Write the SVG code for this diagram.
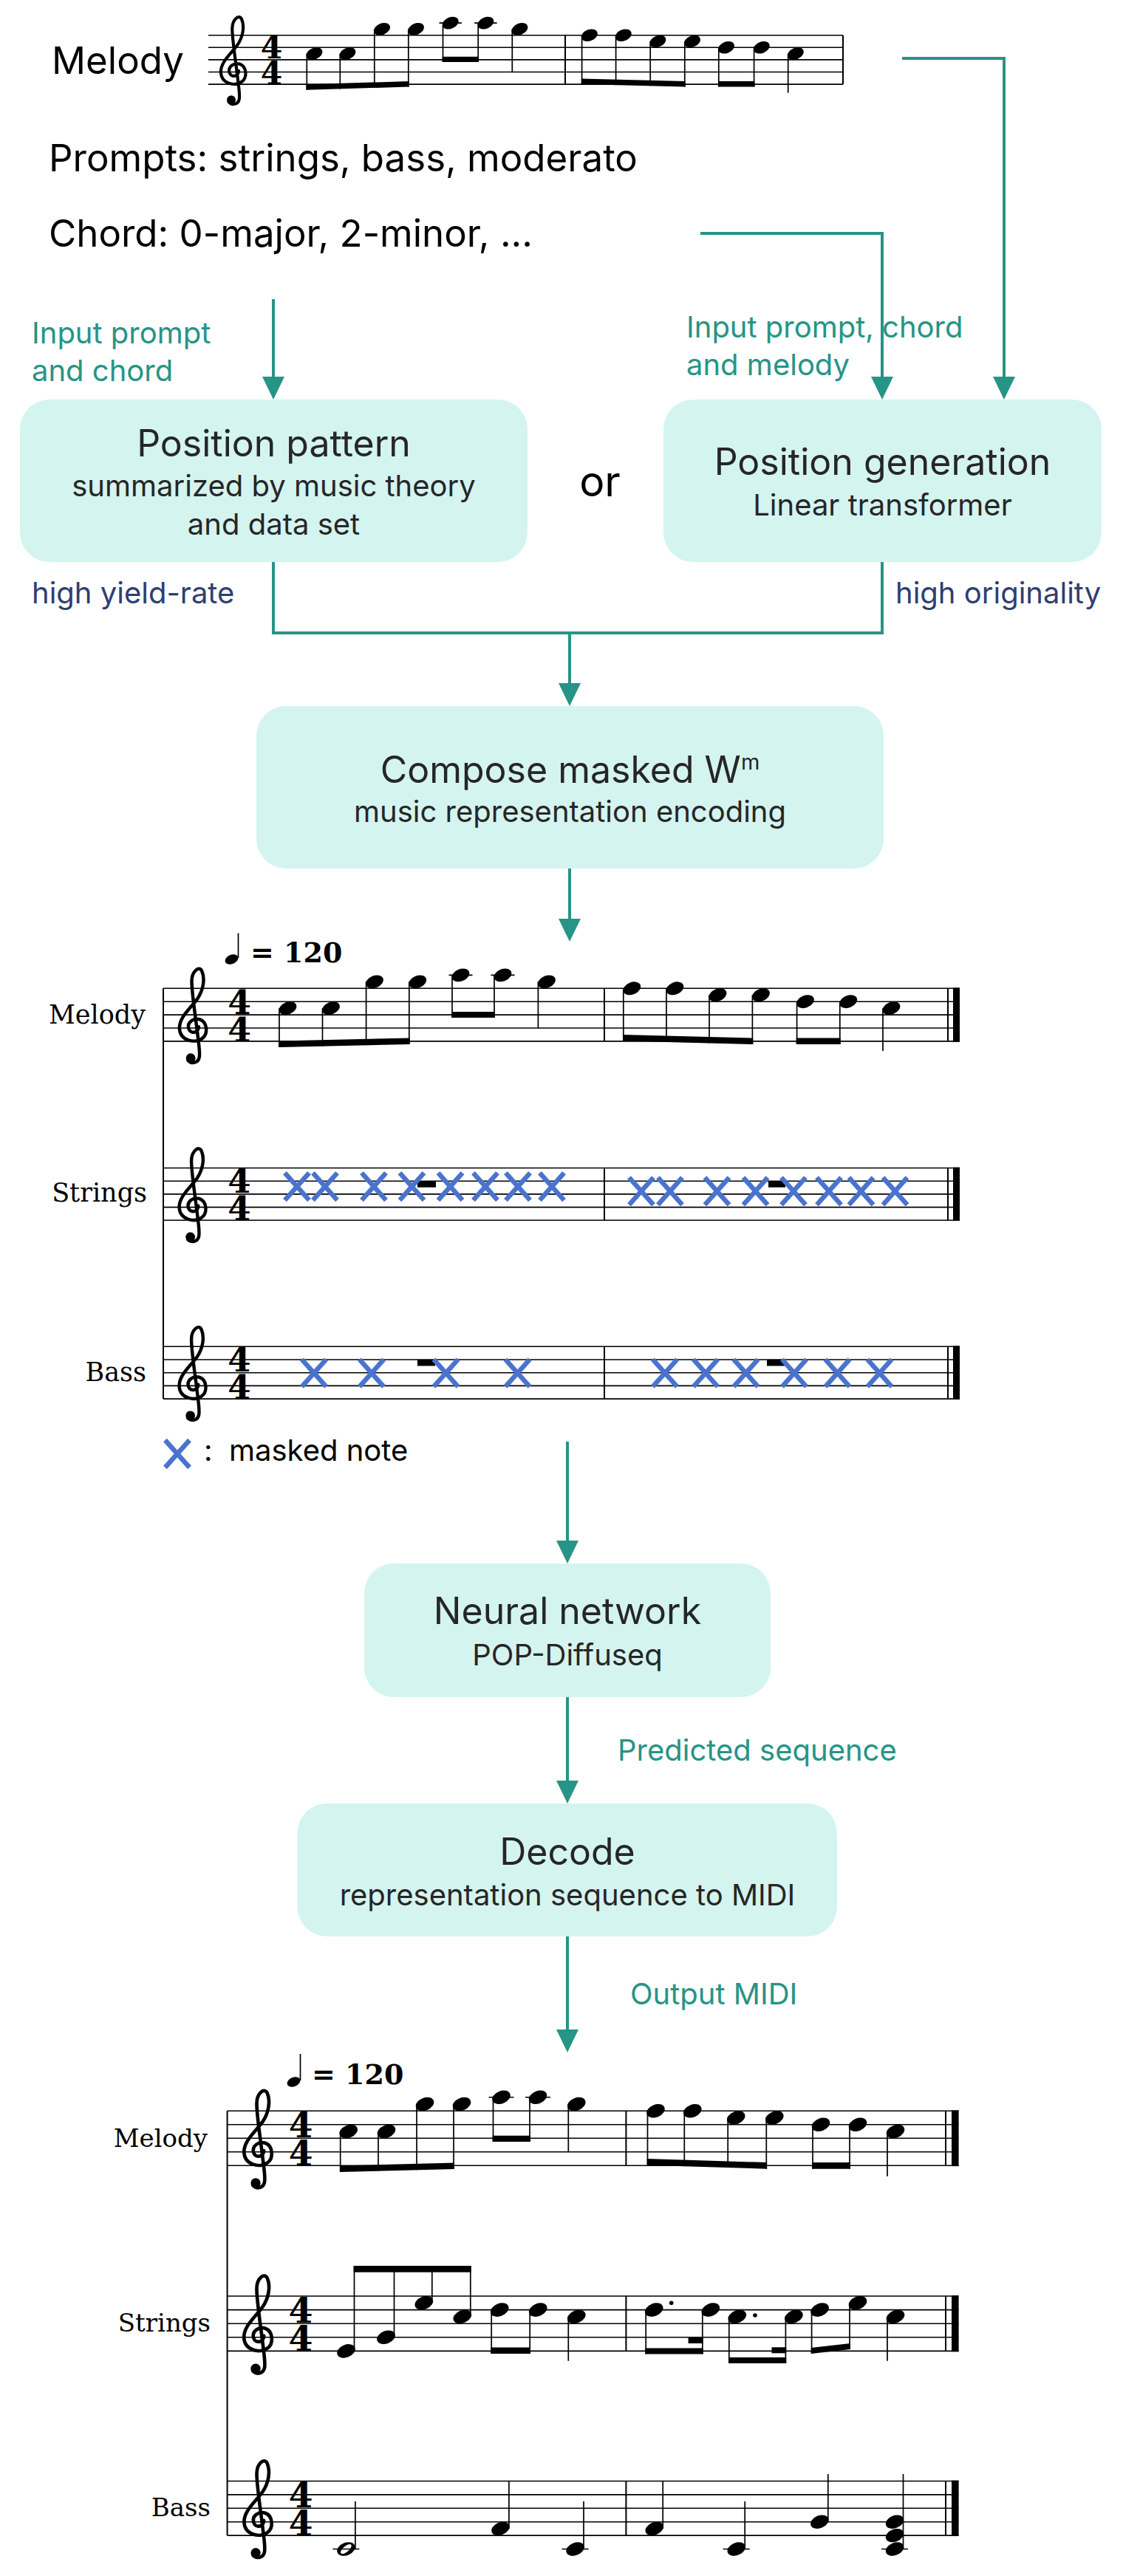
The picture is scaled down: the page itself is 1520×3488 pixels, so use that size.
<svg xmlns="http://www.w3.org/2000/svg" width="1520" height="3488" viewBox="0 0 1520 3488">
<defs>
<style>
.sans{font-family:Inter,"Liberation Sans",Arial,sans-serif}
.big{font-size:51px;fill:#000}
.nt{font-size:50px;fill:#262626;text-anchor:middle}
.ns{font-size:40px;fill:#262626}
.lbl{font-size:40px;fill:#269486}
.navy{font-size:40px;fill:#2E3E72}
.inst{font-family:"DejaVu Serif",serif;fill:#000;text-anchor:end}
.tsig{font-family:"DejaVu Serif",serif;font-weight:bold;text-anchor:middle;fill:#000}
.tempo{font-family:"DejaVu Serif",serif;font-weight:bold;font-size:38px;fill:#000}
.node{fill:#D4F4F0}
.conn{fill:none;stroke:#269486;stroke-width:4}
.st{stroke:#000;stroke-width:1.6;fill:none}
.stem{stroke:#000;stroke-width:1.7;fill:none}
.bar{stroke:#000;stroke-width:2;fill:none}
.x{stroke:#4A73CE;stroke-width:6.5;fill:none}
</style>
<marker id="ah" markerUnits="userSpaceOnUse" markerWidth="31" markerHeight="30" viewBox="0 0 31 30" refX="21" refY="15" orient="auto">
<path d="M0,0 L31,15 L0,30 z" fill="#269486"/>
</marker>
<g id="clef">
<path d="M0.3,-0.1 C0.32,0.35 -0.3,0.5 -0.45,0.05 C-0.6,-0.45 -0.05,-0.8 0.4,-0.65 C0.95,-0.45 1.05,0.45 0.55,0.8 C0,1.2 -1.1,0.95 -1.15,0.05 C-1.2,-0.8 -0.3,-1.5 0.2,-2.2 C0.65,-2.85 0.8,-3.7 0.55,-4.3 C0.35,-4.75 -0.2,-4.3 -0.22,-3.6 C-0.25,-2.9 0,-1.3 0.2,0.3 C0.3,1.2 0.42,1.8 0.35,2.2 C0.28,2.65 -0.25,2.75 -0.5,2.45" fill="none" stroke="#000" stroke-width="0.25" stroke-linecap="round"/>
<circle cx="-0.3" cy="2.28" r="0.36" fill="#000"/>
</g>
<ellipse id="hd" rx="0.69" ry="0.46" transform="rotate(-22)" fill="#000"/>
<path id="xm" d="M-16.5,-18.5 L16.5,18.5 M16.5,-18.5 L-16.5,18.5"/>
</defs>
<rect width="1520" height="3488" fill="#fff"/>

<!-- top inputs -->
<g id="melody-input">
<text class="sans big" x="70" y="100">Melody</text>
<path class="st" d="M282,47.7H1141 M282,64.3H1141 M282,80.9H1141 M282,97.5H1141 M282,114.1H1141"/>
<path class="bar" d="M765,47.7V114.1 M1141,47.7V114.1"/>
<use href="#clef" transform="translate(318,97.5) scale(16.6)"/>
<text class="tsig" font-size="42.5"><tspan x="367.5" y="79.4">4</tspan><tspan x="367.5" y="114.1">4</tspan></text>
<path class="st" d="M594.5,31.1H624.9 M642.2,31.1H672.6"/>
<use href="#hd" transform="translate(425.5,72.6) scale(16.6)"/>
<use href="#hd" transform="translate(470.5,72.6) scale(16.6)"/>
<use href="#hd" transform="translate(517,39.4) scale(16.6)"/>
<use href="#hd" transform="translate(563,39.4) scale(16.6)"/>
<use href="#hd" transform="translate(609.7,31.1) scale(16.6)"/>
<use href="#hd" transform="translate(657.4,31.1) scale(16.6)"/>
<use href="#hd" transform="translate(703.5,39.4) scale(16.6)"/>
<use href="#hd" transform="translate(797.8,47.7) scale(16.6)"/>
<use href="#hd" transform="translate(843.8,47.7) scale(16.6)"/>
<use href="#hd" transform="translate(890.4,56) scale(16.6)"/>
<use href="#hd" transform="translate(937,56) scale(16.6)"/>
<use href="#hd" transform="translate(983,64.3) scale(16.6)"/>
<use href="#hd" transform="translate(1030.8,64.3) scale(16.6)"/>
<use href="#hd" transform="translate(1076.9,72.6) scale(16.6)"/>
<path class="stem" d="M415.3,72.6V121.8 M460.3,72.6V120.4 M506.8,39.4V118.9 M552.8,39.4V117.5 M599.5,31.1V84 M647.2,31.1V84 M693.3,39.4V97.5 M787.6,47.7V114 M833.6,47.7V115.2 M880.2,56V116.3 M926.8,56V117.5 M972.8,64.3V117.5 M1020.6,64.3V117.5 M1066.7,72.6V125.7"/>
<polygon points="414.5,114.3 553.6,110 553.6,117.5 414.5,121.8"/>
<polygon points="598.7,76.7 648,76.7 648,84 598.7,84"/>
<polygon points="786.8,106.5 927.6,110 927.6,117.5 786.8,114"/>
<polygon points="972,110 1021.4,110 1021.4,117.5 972,117.5"/>
</g>
<g id="prompts">
<text class="sans big" x="66" y="232">Prompts: strings, bass, moderato</text>
</g>
<g id="chord">
<text class="sans big" x="66" y="334">Chord: 0-major, 2-minor, ...</text>
</g>

<!-- connectors -->
<g id="connectors">
<path class="conn" d="M1221,79 H1359 V531" marker-end="url(#ah)"/>
<path class="conn" d="M948,316 H1194 V531" marker-end="url(#ah)"/>
<path class="conn" d="M370,405 V531" marker-end="url(#ah)"/>
<path class="conn" d="M370,761 V857 H1194 V761"/>
<path class="conn" d="M771,857 V946" marker-end="url(#ah)"/>
<path class="conn" d="M771,1176 V1265" marker-end="url(#ah)"/>
<path class="conn" d="M768,1952 V2107" marker-end="url(#ah)"/>
<path class="conn" d="M768,2298 V2432" marker-end="url(#ah)"/>
<path class="conn" d="M768,2622 V2769" marker-end="url(#ah)"/>
<text class="sans lbl"><tspan x="43" y="465">Input prompt</tspan><tspan x="43" y="516">and chord</tspan></text>
<text class="sans lbl"><tspan x="929" y="457">Input prompt, chord</tspan><tspan x="929" y="508">and melody</tspan></text>
<text class="sans navy" x="43" y="817">high yield-rate</text>
<text class="sans navy" x="1212" y="817">high originality</text>
<text class="sans lbl" x="836" y="2384">Predicted sequence</text>
<text class="sans lbl" x="853" y="2714">Output MIDI</text>
</g>

<g id="position-pattern">
<rect class="node" x="27" y="541" width="687" height="220" rx="40"/>
<text class="sans nt" x="370.5"><tspan x="370.5" y="618">Position pattern</tspan><tspan x="370.5" y="672" font-size="40">summarized by music theory</tspan><tspan x="370.5" y="724" font-size="40">and data set</tspan></text>
</g>
<g id="or">
<text class="sans" x="812" y="672" font-size="57" text-anchor="middle" fill="#000">or</text>
</g>
<g id="position-generation">
<rect class="node" x="898" y="541" width="593" height="220" rx="40"/>
<text class="sans nt"><tspan x="1194.5" y="643">Position generation</tspan><tspan x="1194.5" y="698" font-size="40">Linear transformer</tspan></text>
</g>
<g id="compose">
<rect class="node" x="347" y="956" width="849" height="220" rx="40"/>
<text class="sans nt" x="771.5" y="1060">Compose masked W<tspan font-size="29" dy="-18">m</tspan></text>
<text class="sans ns" x="771.5" y="1113" text-anchor="middle">music representation encoding</text>
</g>

<!-- masked score -->
<g id="masked-score">
<path class="bar" d="M221,1338.3V1894.1"/>
<path d="M322.5,1297V1263.5" class="stem"/>
<use href="#hd" transform="translate(313.5,1299) scale(13.5)"/>
<text class="tempo" x="339" y="1303">= 120</text>
<text class="inst" x="197" y="1386" font-size="35">Melody</text>
<path class="st" d="M221,1338.3H1299 M221,1356.2H1299 M221,1374.1H1299 M221,1392H1299 M221,1409.9H1299"/>
<path class="bar" d="M818,1338.3V1409.9 M1283,1338.3V1409.9"/>
<rect x="1290" y="1337.5" width="9" height="73.2"/>
<use href="#clef" transform="translate(263.5,1392) scale(17.9)"/>
<text class="tsig" font-size="45.5"><tspan x="324" y="1372.6">4</tspan><tspan x="324" y="1409.9">4</tspan></text>
<path class="st" d="M607.5,1320.4H639.5 M664.5,1320.4H696.5"/>
<use href="#hd" transform="translate(389.5,1365.15) scale(17.9)"/>
<use href="#hd" transform="translate(448,1365.15) scale(17.9)"/>
<use href="#hd" transform="translate(507,1329.35) scale(17.9)"/>
<use href="#hd" transform="translate(565.3,1329.35) scale(17.9)"/>
<use href="#hd" transform="translate(623.5,1320.4) scale(17.9)"/>
<use href="#hd" transform="translate(680.5,1320.4) scale(17.9)"/>
<use href="#hd" transform="translate(740,1329.35) scale(17.9)"/>
<use href="#hd" transform="translate(855.3,1338.3) scale(17.9)"/>
<use href="#hd" transform="translate(913.5,1338.3) scale(17.9)"/>
<use href="#hd" transform="translate(971.5,1347.25) scale(17.9)"/>
<use href="#hd" transform="translate(1030,1347.25) scale(17.9)"/>
<use href="#hd" transform="translate(1090,1356.2) scale(17.9)"/>
<use href="#hd" transform="translate(1148.3,1356.2) scale(17.9)"/>
<use href="#hd" transform="translate(1206.5,1365.15) scale(17.9)"/>
<path class="stem" d="M378,1365.15V1418 M436.5,1365.15V1416.7 M495.6,1329.35V1415.3 M553.8,1329.35V1414 M612,1320.4V1378 M669,1320.4V1378 M728.4,1329.35V1392 M843.8,1338.3V1409.5 M902,1338.3V1411 M960,1347.25V1412.5 M1018.4,1347.25V1414 M1078.6,1356.2V1414 M1136.8,1356.2V1414 M1195,1365.15V1423"/>
<polygon points="377.2,1409.5 554.6,1405.5 554.6,1414 377.2,1418"/>
<polygon points="611.2,1370 669.8,1370 669.8,1378 611.2,1378"/>
<polygon points="843,1401 1019.2,1405.5 1019.2,1414 843,1409.5"/>
<polygon points="1077.8,1405.5 1137.6,1405.5 1137.6,1414 1077.8,1414"/>

<text class="inst" x="199" y="1627" font-size="35">Strings</text>
<path class="st" d="M221,1581.5H1299 M221,1599.2H1299 M221,1616.9H1299 M221,1634.6H1299 M221,1652.3H1299"/>
<path class="bar" d="M818,1581.5V1652.3 M1283,1581.5V1652.3"/>
<rect x="1290" y="1580.7" width="9" height="72.4"/>
<use href="#clef" transform="translate(263,1634.6) scale(17.7)"/>
<text class="tsig" font-size="45"><tspan x="324" y="1615.4">4</tspan><tspan x="324" y="1652.3">4</tspan></text>
<rect x="565" y="1599.2" width="25" height="8.5"/>
<rect x="1040" y="1599.2" width="23" height="8.5"/>
<g class="x">
<use href="#xm" x="402" y="1606.7"/><use href="#xm" x="440" y="1606.7"/><use href="#xm" x="506" y="1606.7"/><use href="#xm" x="557.5" y="1606.7"/><use href="#xm" x="609.5" y="1606.7"/><use href="#xm" x="657" y="1606.7"/><use href="#xm" x="701" y="1606.7"/><use href="#xm" x="747" y="1606.7"/>
<use href="#xm" x="868" y="1612.8"/><use href="#xm" x="907" y="1612.8"/><use href="#xm" x="970.5" y="1612.8"/><use href="#xm" x="1022.5" y="1612.8"/><use href="#xm" x="1074" y="1612.8"/><use href="#xm" x="1122" y="1612.8"/><use href="#xm" x="1165.5" y="1612.8"/><use href="#xm" x="1211.5" y="1612.8"/>
</g>

<text class="inst" x="198" y="1870" font-size="35">Bass</text>
<path class="st" d="M221,1823.3H1299 M221,1841H1299 M221,1858.7H1299 M221,1876.4H1299 M221,1894.1H1299"/>
<path class="bar" d="M818,1823.3V1894.1 M1283,1823.3V1894.1"/>
<rect x="1290" y="1822.5" width="9" height="72.4"/>
<use href="#clef" transform="translate(263,1876.4) scale(17.7)"/>
<text class="tsig" font-size="45"><tspan x="324" y="1857.2">4</tspan><tspan x="324" y="1894.1">4</tspan></text>
<rect x="565" y="1841" width="24" height="8.5"/>
<rect x="1038" y="1841" width="24" height="8.5"/>
<g class="x">
<use href="#xm" x="425" y="1859.2"/><use href="#xm" x="503" y="1859.2"/><use href="#xm" x="603.5" y="1859.2"/><use href="#xm" x="700.5" y="1859.2"/>
<use href="#xm" x="900" y="1859.2"/><use href="#xm" x="955" y="1859.2"/><use href="#xm" x="1009.5" y="1859.2"/><use href="#xm" x="1075" y="1859.2"/><use href="#xm" x="1133.5" y="1859.2"/><use href="#xm" x="1190.5" y="1859.2"/>
</g>
</g>

<g id="legend">
<use href="#xm" class="x" x="240" y="1968.5"/>
<text class="sans" font-size="40" fill="#000" y="1978"><tspan x="276">:</tspan><tspan x="310">masked note</tspan></text>
</g>

<g id="neural-network">
<rect class="node" x="493" y="2117" width="550" height="181" rx="40"/>
<text class="sans nt"><tspan x="768" y="2199">Neural network</tspan><tspan x="768" y="2255" font-size="40">POP-Diffuseq</tspan></text>
</g>
<g id="decode">
<rect class="node" x="402.5" y="2442" width="730.5" height="180" rx="40"/>
<text class="sans nt"><tspan x="768" y="2525">Decode</tspan><tspan x="768" y="2580" font-size="40">representation sequence to MIDI</tspan></text>
</g>

<!-- output score -->
<g id="output-score">
<path class="bar" d="M307.6,2858.3V3433.1"/>
<path d="M406.5,2817V2781" class="stem"/>
<use href="#hd" transform="translate(397.5,2819) scale(13.5)"/>
<text class="tempo" x="422" y="2821.7">= 120</text>

<text class="inst" x="281" y="2906.7" font-size="34">Melody</text>
<path class="st" d="M307.6,2858.3H1297.6 M307.6,2876.8H1297.6 M307.6,2895.3H1297.6 M307.6,2913.8H1297.6 M307.6,2932.3H1297.6"/>
<path class="bar" d="M847.4,2858.3V2932.3 M1280,2858.3V2932.3"/>
<rect x="1288" y="2857.5" width="9.6" height="75.6"/>
<use href="#clef" transform="translate(351.6,2913.8) scale(18.5)"/>
<text class="tsig" font-size="47"><tspan x="407" y="2893.8">4</tspan><tspan x="407" y="2932.3">4</tspan></text>
<path class="st" d="M661.5,2839.8H695.5 M711,2839.8H745"/>
<use href="#hd" transform="translate(471.7,2886.05) scale(18.5)"/>
<use href="#hd" transform="translate(523,2886.05) scale(18.5)"/>
<use href="#hd" transform="translate(575,2849.05) scale(18.5)"/>
<use href="#hd" transform="translate(625,2849.05) scale(18.5)"/>
<use href="#hd" transform="translate(678.5,2839.8) scale(18.5)"/>
<use href="#hd" transform="translate(728,2839.8) scale(18.5)"/>
<use href="#hd" transform="translate(780.3,2849.05) scale(18.5)"/>
<use href="#hd" transform="translate(887.5,2858.3) scale(18.5)"/>
<use href="#hd" transform="translate(937.3,2858.3) scale(18.5)"/>
<use href="#hd" transform="translate(996.2,2867.55) scale(18.5)"/>
<use href="#hd" transform="translate(1048.3,2867.55) scale(18.5)"/>
<use href="#hd" transform="translate(1111,2876.8) scale(18.5)"/>
<use href="#hd" transform="translate(1161,2876.8) scale(18.5)"/>
<use href="#hd" transform="translate(1212,2886.05) scale(18.5)"/>
<path class="stem" d="M460.7,2886.05V2941 M512,2886.05V2939.7 M564,2849.05V2938.3 M614,2849.05V2937 M667.5,2839.8V2900 M717,2839.8V2900 M769.3,2849.05V2914 M876.5,2858.3V2931.7 M926.3,2858.3V2933.3 M985.2,2867.55V2935 M1037.3,2867.55V2936.7 M1100,2876.8V2936.7 M1150,2876.8V2936.7 M1201,2886.05V2946.7"/>
<polygon points="459.9,2932.5 614.8,2928.5 614.8,2937 459.9,2941"/>
<polygon points="666.7,2891.7 717.8,2891.7 717.8,2900 666.7,2900"/>
<polygon points="875.7,2923 1038.1,2928 1038.1,2936.7 875.7,2931.7"/>
<polygon points="1099.2,2928 1150.8,2928 1150.8,2936.7 1099.2,2936.7"/>

<text class="inst" x="285" y="3157" font-size="34">Strings</text>
<path class="st" d="M307.6,3109H1297.6 M307.6,3127.6H1297.6 M307.6,3146.2H1297.6 M307.6,3164.8H1297.6 M307.6,3183.4H1297.6"/>
<path class="bar" d="M847.4,3109V3183.4 M1280,3109V3183.4"/>
<rect x="1288" y="3108.2" width="9.6" height="76"/>
<use href="#clef" transform="translate(351.6,3164.8) scale(18.6)"/>
<text class="tsig" font-size="47.4"><tspan x="407" y="3144.7">4</tspan><tspan x="407" y="3183.4">4</tspan></text>
<use href="#hd" transform="translate(468.5,3183.4) scale(18.6)"/>
<use href="#hd" transform="translate(522.5,3164.8) scale(18.6)"/>
<use href="#hd" transform="translate(573.8,3118.3) scale(18.6)"/>
<use href="#hd" transform="translate(625.8,3136.9) scale(18.6)"/>
<use href="#hd" transform="translate(676.2,3127.6) scale(18.6)"/>
<use href="#hd" transform="translate(728.2,3127.6) scale(18.6)"/>
<use href="#hd" transform="translate(780.3,3136.9) scale(18.6)"/>
<use href="#hd" transform="translate(885.2,3127.6) scale(18.6)"/>
<use href="#hd" transform="translate(961.8,3127.6) scale(18.6)"/>
<use href="#hd" transform="translate(997.8,3136.9) scale(18.6)"/>
<use href="#hd" transform="translate(1074.4,3136.9) scale(18.6)"/>
<use href="#hd" transform="translate(1109.6,3127.6) scale(18.6)"/>
<use href="#hd" transform="translate(1161,3118.3) scale(18.6)"/>
<use href="#hd" transform="translate(1212,3136.9) scale(18.6)"/>
<circle cx="908.7" cy="3118.3" r="2.8"/>
<circle cx="1022" cy="3135" r="2.8"/>
<path class="stem" d="M479.5,3183.4V3068 M533.5,3164.8V3068 M584.8,3118.3V3068 M636.8,3136.9V3068 M665.2,3127.6V3187 M717.2,3127.6V3187 M769.3,3136.9V3196.7 M874.2,3127.6V3187.5 M950.8,3127.6V3187.5 M986.8,3136.9V3200 M1063.4,3136.9V3200 M1098.6,3127.6V3187 M1150,3118.3V3181 M1201,3136.9V3196.7"/>
<rect x="478.7" y="3068" width="158.9" height="8.7"/>
<rect x="664.4" y="3178.5" width="53.6" height="8.5"/>
<rect x="873.4" y="3179.5" width="78.2" height="8"/>
<rect x="931.6" y="3165" width="20" height="8"/>
<rect x="986" y="3192" width="78.2" height="8"/>
<rect x="1044.5" y="3178.3" width="19.7" height="8"/>
<polygon points="1097.8,3179 1150.8,3173 1150.8,3181 1097.8,3187"/>

<text class="inst" x="285" y="3407" font-size="34">Bass</text>
<path class="st" d="M307.6,3359.5H1297.6 M307.6,3377.9H1297.6 M307.6,3396.3H1297.6 M307.6,3414.7H1297.6 M307.6,3433.1H1297.6"/>
<path class="bar" d="M847.4,3359.5V3433.1 M1280,3359.5V3433.1"/>
<rect x="1288" y="3358.7" width="9.6" height="75.2"/>
<use href="#clef" transform="translate(351.6,3414.7) scale(18.4)"/>
<text class="tsig" font-size="47"><tspan x="407" y="3394.8">4</tspan><tspan x="407" y="3433.1">4</tspan></text>
<g transform="translate(468.4,3451.5) rotate(-22)"><ellipse rx="12.7" ry="8.5"/><ellipse rx="9" ry="3.8" fill="#fff" transform="rotate(-18)"/></g>
<use href="#hd" transform="translate(677.4,3423.9) scale(18.4)"/>
<use href="#hd" transform="translate(778.5,3451.5) scale(18.4)"/>
<use href="#hd" transform="translate(885.7,3423.9) scale(18.4)"/>
<use href="#hd" transform="translate(996.7,3451.5) scale(18.4)"/>
<use href="#hd" transform="translate(1109.3,3414.7) scale(18.4)"/>
<use href="#hd" transform="translate(1211,3451.5) scale(18.4)"/>
<use href="#hd" transform="translate(1211,3433.1) scale(18.4)"/>
<use href="#hd" transform="translate(1211,3414.7) scale(18.4)"/>
<path class="st" d="M450.4,3451.5H486.4 M760.5,3451.5H796.5 M978.7,3451.5H1014.7 M1193,3451.5H1229"/>
<path class="stem" d="M480.9,3451.5V3387 M688.9,3423.9V3359.5 M790,3451.5V3387 M897.2,3423.9V3359.5 M1008.2,3451.5V3387 M1120.8,3414.7V3350 M1222.5,3451.5V3350"/>
</g>
</svg>
